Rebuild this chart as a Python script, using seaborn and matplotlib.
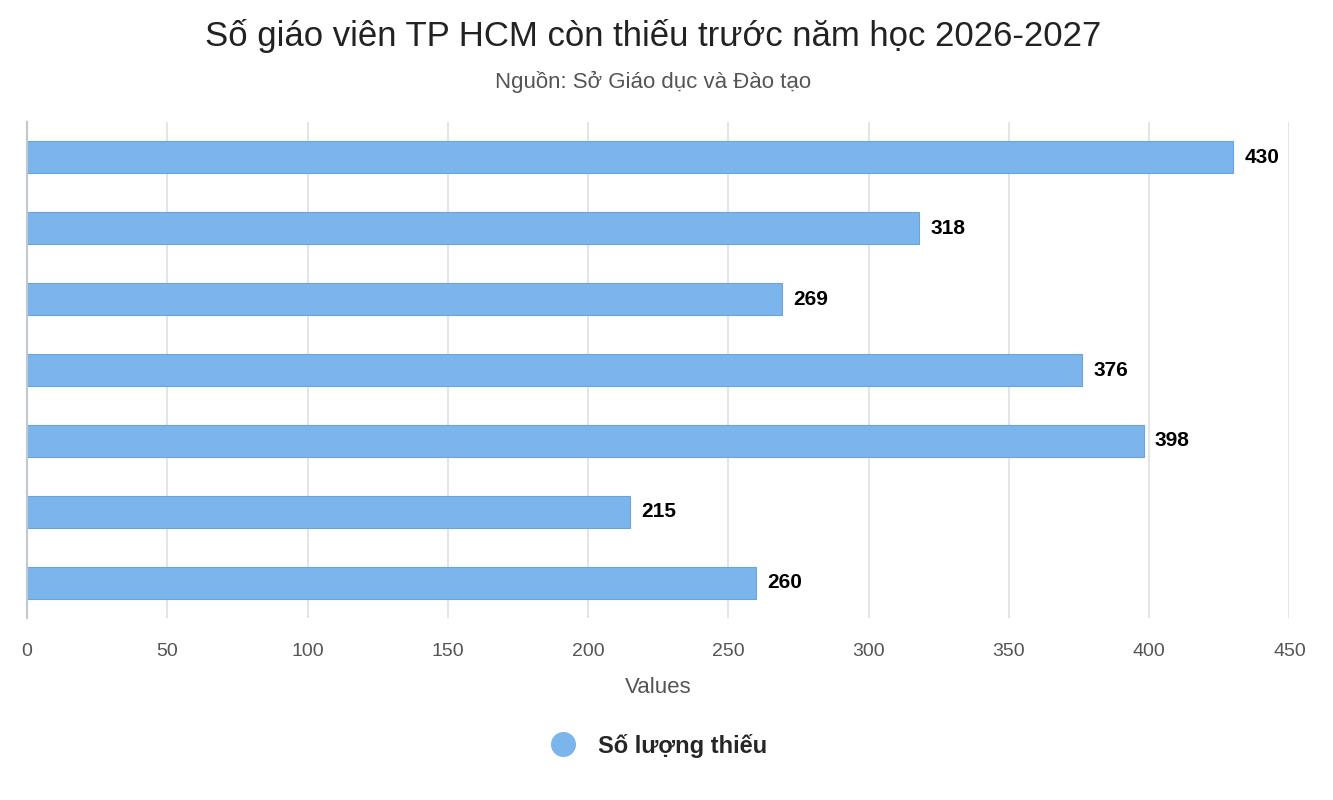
import matplotlib
matplotlib.use("Agg")
import matplotlib.pyplot as plt
import seaborn as sns
import pandas as pd
from matplotlib.lines import Line2D

categories = ["1", "2", "3", "4", "5", "6", "7"]
values = [430, 318, 269, 376, 398, 215, 260]
series_name = "Số lượng thiếu"
xticks = [0, 50, 100, 150, 200, 250, 300, 350, 400, 450]

sns.set_theme(style="white")
plt.rcParams['font.family'] = ['Liberation Sans', 'DejaVu Sans']

df = pd.DataFrame({"cat": categories, "val": values})
fig = plt.figure(figsize=(13.33, 8), dpi=100)
ax = fig.add_axes([0.0203, 0.2275, 0.947, 0.62])
color = "#7cb5ec"
sns.barplot(data=df, y="cat", x="val", orient="h", color=color, width=0.45,
            edgecolor="#6aa3dd", linewidth=0.8, saturation=1, ax=ax)
ax.set_xlim(0, 450)
ax.set_xticks(xticks)
ax.tick_params(axis='x', labelsize=14, colors="#555555", length=0, pad=18)
ax.set_yticklabels([])
ax.tick_params(axis='y', length=0)
ax.set_ylabel("")
ax.set_xlabel("Values", fontsize=16, color="#555555", labelpad=12)
ax.grid(axis='x', color="#e0e0e0", linewidth=1.2)
ax.set_axisbelow(True)
for s in ["top", "right", "bottom"]:
    ax.spines[s].set_visible(False)
ax.spines["left"].set_color("#c0c8d0")
ax.spines["left"].set_linewidth(1.5)
for i, v in enumerate(values):
    ax.text(v + 4, i, str(v), va="center", ha="left", fontsize=15, fontweight="bold", color="black")

fig.text(0.49, 0.955, "Số giáo viên TP HCM còn thiếu trước năm học 2026-2027",
         ha="center", va="center", fontsize=25, color="#222222")
fig.text(0.49, 0.898, "Nguồn: Sở Giáo dục và Đào tạo", ha="center", va="center",
         fontsize=16, color="#555555")
h = Line2D([], [], marker="o", linestyle="", markersize=17, markerfacecolor=color, markeredgecolor=color)
fig.legend([h], [series_name], loc="center", bbox_to_anchor=(0.49, 0.068), frameon=False,
           prop={"size": 17, "weight": "bold"}, handletextpad=0.5)
fig.savefig("out.png", dpi=100)
